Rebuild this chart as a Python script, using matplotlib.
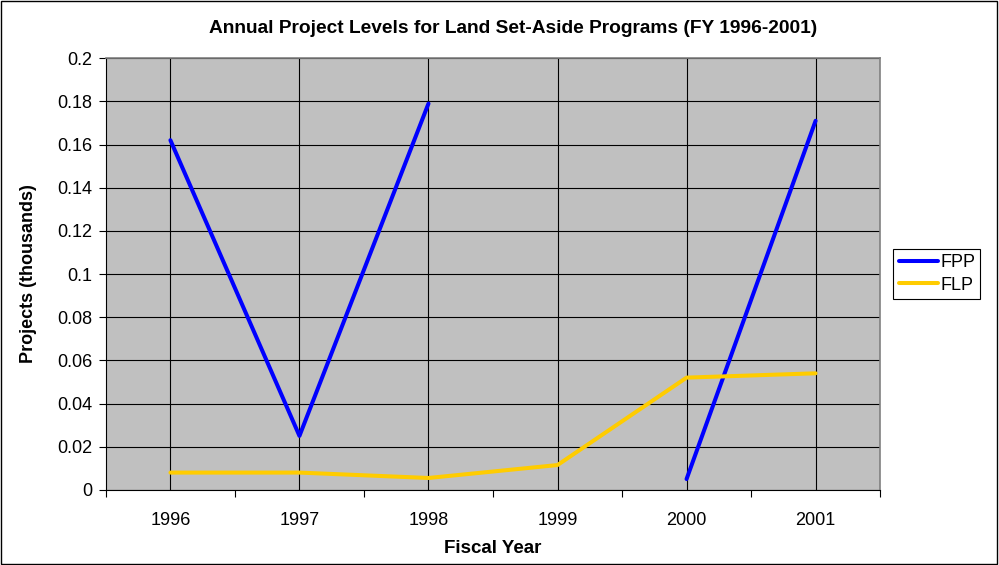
import numpy as np
import matplotlib.pyplot as plt
from matplotlib.patches import Rectangle

plt.rcParams["font.family"] = ["Liberation Sans", "DejaVu Sans"]

years = ["1996", "1997", "1998", "1999", "2000", "2001"]
fpp = [0.162, 0.025, 0.179, np.nan, 0.005, 0.171]
flp = [0.008, 0.008, 0.0055, 0.0115, 0.052, 0.054]
y_ticks = [0, 0.02, 0.04, 0.06, 0.08, 0.1, 0.12, 0.14, 0.16, 0.18, 0.2]
y_labels = ["0", "0.02", "0.04", "0.06", "0.08", "0.1", "0.12", "0.14", "0.16", "0.18", "0.2"]

fig = plt.figure(figsize=(9.99, 5.65), dpi=100)
fig.patches.append(Rectangle((0.001, 0.002), 0.997, 0.996, transform=fig.transFigure,
                             fill=False, edgecolor="black", linewidth=1.0))

ax = fig.add_axes([0.106, 0.133, 0.775, 0.764])
ax.set_facecolor("#C0C0C0")

x = np.arange(len(years))
ax.plot(x, fpp, color="#0000FF", linewidth=2.9, label="FPP", solid_capstyle="round")
ax.plot(x, flp, color="#FFCC00", linewidth=2.9, label="FLP", solid_capstyle="round")

ax.set_xlim(-0.5, len(years) - 0.5)
ax.set_ylim(0, 0.2)
ax.set_xticks(x)
ax.set_xticklabels(years, fontsize=13)
ax.set_xticks(np.arange(-0.5, len(years), 1.0), minor=True)
ax.tick_params(axis="x", which="major", length=0, pad=16)
ax.tick_params(axis="x", which="minor", length=5, width=0.8, color="black")
ax.set_yticks(y_ticks)
ax.set_yticklabels(y_labels, fontsize=13)
ax.tick_params(axis="y", length=5, width=0.8, pad=5)

ax.grid(True, which="major", color="black", linewidth=0.8)
ax.set_axisbelow(True)
for side in ["top", "right"]:
    ax.spines[side].set_color("#808080")
    ax.spines[side].set_linewidth(1.2)
for side in ["left", "bottom"]:
    ax.spines[side].set_color("black")
    ax.spines[side].set_linewidth(0.8)

ax.set_xlabel("Fiscal Year", fontsize=13.5, fontweight="bold", labelpad=8)
ax.set_ylabel("Projects (thousands)", fontsize=13, fontweight="bold", labelpad=14)
fig.text(0.514, 0.950, "Annual Project Levels for Land Set-Aside Programs (FY 1996-2001)",
         ha="center", va="center", fontsize=13.8, fontweight="bold")

leg = fig.legend(loc="center left", bbox_to_anchor=(0.894, 0.515), fontsize=13,
                 frameon=True, fancybox=False, edgecolor="black", framealpha=1,
                 handlelength=2.2, handletextpad=0.1, borderpad=0.3, labelspacing=0.3,
                 borderaxespad=0)
leg.get_frame().set_linewidth(0.8)

fig.savefig("out.png", dpi=100)
